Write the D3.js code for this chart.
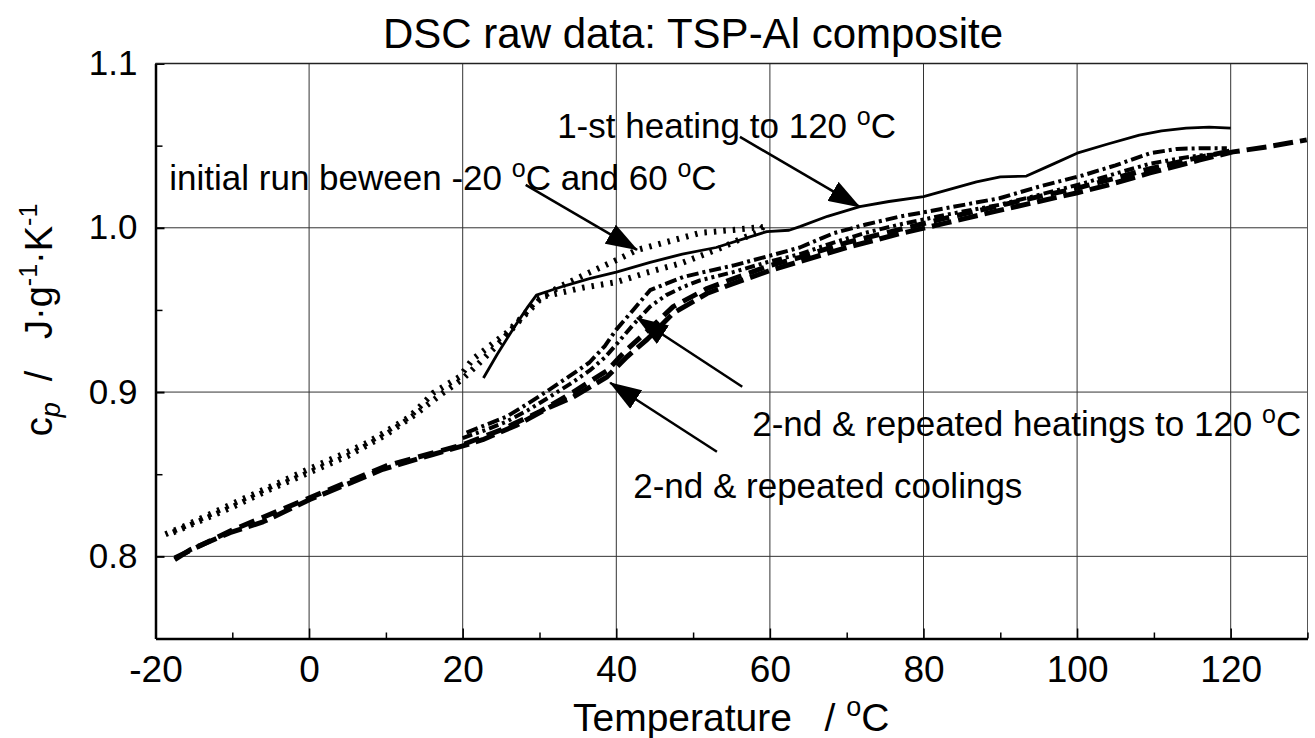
<!DOCTYPE html>
<html>
<head>
<meta charset="utf-8">
<script src="https://cdn.jsdelivr.net/npm/d3@7"></script>
<style>
  body { margin: 0; background: #fff; }
  svg { display: block; font-family: "Liberation Sans", Arial, sans-serif; }
</style>
</head>
<body>
<div id="chart"></div>
<script>
// --- Data ---
const xTicks = [-20, 0, 20, 40, 60, 80, 100, 120];
const xMinorTicks = [-10, 10, 30, 50, 70, 90, 110, 130];
const yTicks = [0.8, 0.9, 1.0, 1.1];
const yMinorTicks = [0.75, 0.85, 0.95, 1.05];

// initial run between -20 and 60 C (heating, then cooling)
const initHeatT  = [-18.7, -16.4, -10, -5, -0.1, 5, 7.5, 10, 13.1, 16.2, 19.6, 21.3, 23.5, 25.7, 27.8, 29.6, 33, 36.6, 40.1, 42.7, 46.6, 50.9, 55.2, 59.1];
const initHeatCp = [0.8135, 0.818, 0.832, 0.8425, 0.853, 0.8635, 0.869, 0.876, 0.885, 0.8996, 0.9093, 0.920, 0.928, 0.936, 0.946, 0.956, 0.965, 0.973, 0.9805, 0.9865, 0.9914, 0.9969, 0.9987, 1.0005];
const initCoolT  = [59.1, 58.6, 56.9, 53.0, 48.6, 43.9, 40.1, 35.6, 30.4, 27.5, 25, 22, 20, 17, 14, 10, 5, 0, -5, -10, -15, -18.5];
const initCoolCp = [1.0005, 0.9975, 0.9945, 0.9866, 0.9787, 0.9726, 0.967, 0.9635, 0.958, 0.944, 0.931, 0.917, 0.908, 0.898, 0.887, 0.874, 0.861, 0.851, 0.841, 0.830, 0.820, 0.813];

// 1-st heating to 120 C
const heat1T  = [22.7, 24.5, 26.5, 28.5, 29.6, 31.5, 33.5, 36.5, 40.0, 44.4, 48.6, 53.0, 57.4, 59.6, 62.5, 63.9, 67.5, 71.7, 75.5, 80.0, 86.9, 90.0, 93.4, 96.5, 100, 104, 108.1, 111, 114.2, 117.2, 120.0];
const heat1Cp = [0.9086, 0.923, 0.938, 0.952, 0.959, 0.962, 0.965, 0.969, 0.973, 0.979, 0.984, 0.988, 0.9945, 0.9977, 0.9985, 1.0007, 1.007, 1.0129, 1.016, 1.019, 1.028, 1.031, 1.0315, 1.038, 1.0454, 1.051, 1.0564, 1.059, 1.0607, 1.0613, 1.0607];

// 2-nd & repeated heatings to 120 C
const heat2T  = [20.5, 23, 25.7, 28.5, 31.3, 34, 36.5, 38.5, 40.0, 42.2, 44.4, 46.5, 48.7, 50.9, 55.2, 59.6, 63.9, 68.3, 72.5, 76.9, 83, 89.9, 95, 100.8, 105, 109.5, 113, 116, 119.5];
const heat2Cp = [0.8753, 0.880, 0.885, 0.893, 0.9015, 0.910, 0.918, 0.928, 0.938, 0.950, 0.962, 0.966, 0.970, 0.9725, 0.977, 0.9825, 0.988, 0.9967, 1.002, 1.0068, 1.012, 1.018, 1.025, 1.032, 1.038, 1.0454, 1.048, 1.0484, 1.0484];
const heat3T  = [20, 23, 25.7, 28.5, 31.3, 34, 36.5, 38.5, 40.0, 42.2, 44.4, 46.5, 48.7, 50.9, 55.2, 59.6, 63.9, 68.3, 72.5, 76.9, 83, 89.9, 95, 100.8, 105, 109.5, 113, 116, 119.5];
const heat3Cp = [0.872, 0.877, 0.882, 0.889, 0.897, 0.905, 0.913, 0.921, 0.929, 0.941, 0.952, 0.959, 0.964, 0.968, 0.973, 0.979, 0.984, 0.991, 0.997, 1.002, 1.008, 1.014, 1.020, 1.027, 1.033, 1.039, 1.042, 1.044, 1.045];

// 2-nd & repeated coolings
const cool2T  = [-17.5, -15.5, -10.3, -6.0, 0.1, 5, 9.6, 16.1, 20.6, 22.6, 27.1, 31.4, 34.4, 38.8, 41.4, 44.0, 47.4, 51.8, 55.2, 60, 63.9, 70, 76.9, 83, 89.9, 95, 99.9, 104, 109.5, 116, 120.3, 124.7, 129.9];
const cool2Cp = [0.798, 0.804, 0.8144, 0.821, 0.8346, 0.844, 0.853, 0.862, 0.868, 0.871, 0.880, 0.891, 0.897, 0.9093, 0.9215, 0.932, 0.948, 0.960, 0.966, 0.974, 0.9795, 0.988, 0.9964, 1.003, 1.0106, 1.016, 1.0212, 1.026, 1.0334, 1.0413, 1.0462, 1.0492, 1.0535];
const cool3T  = [-17.5, -10, 0, 10, 20, 25, 30, 34.4, 38.8, 41.4, 44.0, 47.4, 51.8, 55.2, 60, 63.9, 70, 76.9, 83, 89.9, 95, 99.9, 104, 109.5, 116, 120.3];
const cool3Cp = [0.799, 0.816, 0.8355, 0.855, 0.868, 0.877, 0.888, 0.900, 0.913, 0.926, 0.937, 0.952, 0.963, 0.969, 0.977, 0.982, 0.991, 0.999, 1.006, 1.0135, 1.019, 1.024, 1.029, 1.036, 1.043, 1.047];

// annotations: [T, cp] in data units
const arrowTails = [[56.1, 1.0553], [28.2, 1.0261], [56.4, 0.9032], [53.1, 0.8637]];
const arrowTips  = [[71.7, 1.0127], [42.7, 0.9866], [42.7, 0.9452], [39.2, 0.9057]];
const labelPos   = [[32.3, 1.0626], [-18.2, 1.031], [57.7, 0.8813], [42.2, 0.8436]];
const labelParts = [
  ["1-st heating to 120 ", "^o", "C"],
  ["initial run beween -20 ", "^o", "C and 60 ", "^o", "C"],
  ["2-nd & repeated heatings to 120 ", "^o", "C"],
  ["2-nd & repeated coolings"]
];

// --- Setup ---
const width = 1315, height = 738;
const margin = { top: 63.5, right: 7.5, bottom: 99.5, left: 155.5 };

const x = d3.scaleLinear().domain([-20, 130]).range([margin.left, width - margin.right]);
const y = d3.scaleLinear().domain([0.75, 1.1]).range([height - margin.bottom, margin.top]);

const svg = d3.select("#chart").append("svg")
  .attr("width", width).attr("height", height);

svg.append("defs").append("clipPath").attr("id", "plot-clip")
  .append("rect")
  .attr("x", x(-20)).attr("y", y(1.1))
  .attr("width", x(130) - x(-20)).attr("height", y(0.75) - y(1.1));

svg.select("defs").append("marker")
  .attr("id", "head")
  .attr("markerUnits", "userSpaceOnUse")
  .attr("viewBox", "0 -11 32 22")
  .attr("refX", 31).attr("refY", 0)
  .attr("markerWidth", 32).attr("markerHeight", 22)
  .attr("orient", "auto")
  .append("path").attr("d", "M0,-11L32,0L0,11Z").attr("fill", "#000");

// --- Grid ---
const grid = svg.append("g").attr("stroke", "#333").attr("stroke-width", 1);
grid.selectAll(".vg").data(xTicks.slice(1)).enter().append("line")
  .attr("x1", d => x(d)).attr("x2", d => x(d))
  .attr("y1", y(0.75)).attr("y2", y(1.1));
grid.selectAll(".hg").data(yTicks).enter().append("line")
  .attr("x1", x(-20)).attr("x2", x(130))
  .attr("y1", d => y(d)).attr("y2", d => y(d));
// right border
grid.append("line")
  .attr("x1", x(130)).attr("x2", x(130))
  .attr("y1", y(0.75)).attr("y2", y(1.1))
  .attr("stroke", "#555");

// --- Axes ---
const fmtX = d => String(d);
const xAxis = svg.append("g")
  .attr("transform", `translate(0,${y(0.75)})`)
  .call(d3.axisBottom(x).tickValues(xTicks).tickFormat(fmtX).tickSizeInner(-10).tickSizeOuter(0).tickPadding(17));
xAxis.select(".domain").attr("stroke-width", 2.5);
xAxis.selectAll(".tick line").attr("stroke-width", 1.5);
xAxis.selectAll("text").style("font-size", "37px").style("fill", "#000");

svg.append("g")
  .attr("transform", `translate(0,${y(0.75)})`)
  .call(d3.axisBottom(x).tickValues(xMinorTicks).tickFormat("").tickSizeInner(-6).tickSizeOuter(0))
  .call(g => g.select(".domain").remove())
  .selectAll(".tick line").attr("stroke-width", 1.5);

const yAxis = svg.append("g")
  .attr("transform", `translate(${x(-20)},0)`)
  .call(d3.axisLeft(y).tickValues(yTicks).tickFormat(d3.format(".1f")).tickSizeInner(-9).tickSizeOuter(0).tickPadding(18));
yAxis.select(".domain").attr("stroke-width", 2.5);
yAxis.selectAll(".tick line").attr("stroke-width", 2);
yAxis.selectAll("text").style("font-size", "35px").style("fill", "#000");

svg.append("g")
  .attr("transform", `translate(${x(-20)},0)`)
  .call(d3.axisLeft(y).tickValues(yMinorTicks.slice(1)).tickFormat("").tickSizeInner(-7).tickSizeOuter(0))
  .call(g => g.select(".domain").remove())
  .selectAll(".tick line").attr("stroke-width", 1.5);

// top border
svg.append("line")
  .attr("x1", x(-20)).attr("x2", x(130))
  .attr("y1", y(1.1)).attr("y2", y(1.1))
  .attr("stroke", "#222").attr("stroke-width", 1.5);

// --- Curves ---
const line = d3.line().x(d => x(d[0])).y(d => y(d[1]));
const zip = (a, b) => a.map((v, i) => [v, b[i]]);

const series = [
  { T: cool2T, cp: cool2Cp, w: 5, dash: "20 7" },
  { T: cool3T, cp: cool3Cp, w: 5, dash: "16 8" },
  { T: heat2T, cp: heat2Cp, w: 4, dash: "12 4 3 4" },
  { T: heat3T, cp: heat3Cp, w: 4, dash: "10 4 3 4 3 4" },
  { T: initHeatT, cp: initHeatCp, w: 6, dash: "2.5 7" },
  { T: initCoolT, cp: initCoolCp, w: 6, dash: "2.5 7" },
  { T: heat1T, cp: heat1Cp, w: 2.8, dash: null }
];

const curves = svg.append("g").attr("clip-path", "url(#plot-clip)");
curves.selectAll("path").data(series).enter().append("path")
  .attr("d", s => line(zip(s.T, s.cp)))
  .attr("fill", "none")
  .attr("stroke", "#000")
  .attr("stroke-width", s => s.w)
  .attr("stroke-dasharray", s => s.dash)
  .attr("stroke-linejoin", "round");

// --- Annotations ---
svg.append("g").selectAll("line").data(arrowTails).enter().append("line")
  .attr("x1", d => x(d[0])).attr("y1", d => y(d[1]))
  .attr("x2", (d, i) => x(arrowTips[i][0])).attr("y2", (d, i) => y(arrowTips[i][1]))
  .attr("stroke", "#000").attr("stroke-width", 2.5)
  .attr("marker-end", "url(#head)");

const labels = svg.append("g").style("font-size", "35px").style("fill", "#000");
labelParts.forEach((parts, i) => {
  const t = labels.append("text")
    .attr("x", x(labelPos[i][0])).attr("y", y(labelPos[i][1]))
    .attr("xml:space", "preserve");
  parts.forEach(p => {
    if (p.startsWith("^")) {
      t.append("tspan").text(p.slice(1)).style("font-size", "25px").attr("dy", -13);
    } else {
      t.append("tspan").text(p).attr("dy", t.selectAll("tspan").size() ? 13 : 0);
    }
  });
});

// --- Titles ---
svg.append("text")
  .attr("x", 693).attr("y", 48)
  .attr("text-anchor", "middle")
  .style("font-size", "42px")
  .text("DSC raw data: TSP-Al composite");

const xTitle = svg.append("text")
  .attr("x", 573).attr("y", 731)
  .attr("xml:space", "preserve")
  .style("font-size", "39px");
xTitle.append("tspan").text("Temperature   / ");
xTitle.append("tspan").text("o").style("font-size", "27px").attr("dy", -15);
xTitle.append("tspan").text("C").attr("dy", 15);

const yTitle = svg.append("text")
  .attr("transform", "translate(52,320) rotate(-90)")
  .attr("text-anchor", "middle")
  .attr("xml:space", "preserve")
  .style("font-size", "38px");
yTitle.append("tspan").text("c");
yTitle.append("tspan").text("p").style("font-size", "27px").style("font-style", "italic").attr("dy", 8);
yTitle.append("tspan").text("  /   J·g").attr("dy", -8);
yTitle.append("tspan").text("-1").style("font-size", "25px").attr("dy", -15);
yTitle.append("tspan").text("·K").attr("dy", 15);
yTitle.append("tspan").text("-1").style("font-size", "25px").attr("dy", -15);
</script>
</body>
</html>
